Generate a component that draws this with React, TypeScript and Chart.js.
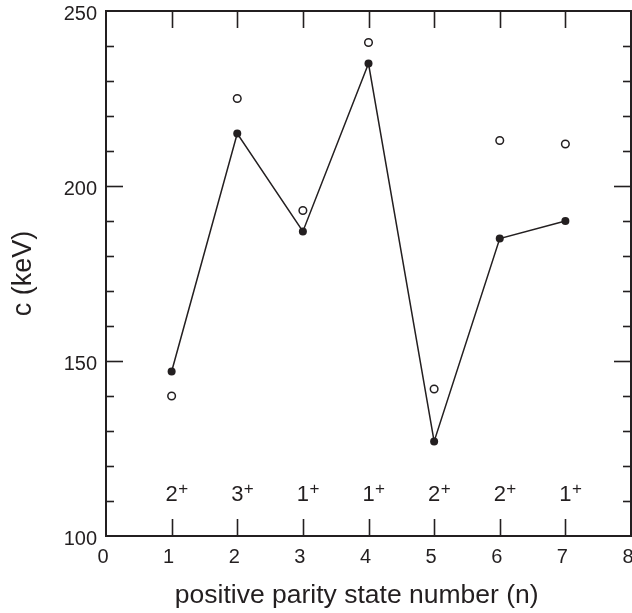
import React, { useEffect, useRef } from 'react';
import { Chart, registerables } from 'chart.js';

Chart.register(...registerables);

// ---- data ----
const stateNumbers = [1, 2, 3, 4, 5, 6, 7];
const calcValues = [147, 215, 187, 235, 127, 185, 190];
const expValues = [140, 225, 193, 241, 142, 213, 212];
const spinDigits = ['2', '3', '1', '1', '2', '2', '1'];
const spinParity = ['+', '+', '+', '+', '+', '+', '+'];
const spinLabelBaseline = 110;
const xMin = 0;
const xMax = 8;
const yMin = 100;
const yMax = 250;
const xTitle = 'positive parity state number (n)';
const yTitle = 'c (keV)';

const INK = '#231f20';
const FONT = '"Liberation Sans", Arial, Helvetica, sans-serif';

const framePlugin = {
  id: 'frameTicks',
  afterDraw(chart: any) {
    const { ctx, chartArea: a, scales } = chart;
    const x = scales.x;
    const y = scales.y;
    ctx.save();
    ctx.strokeStyle = INK;
    ctx.lineWidth = 2;
    ctx.strokeRect(a.left, a.top, a.right - a.left, a.bottom - a.top);
    ctx.lineWidth = 1.6;
    const line = (x1: number, y1: number, x2: number, y2: number) => {
      ctx.beginPath();
      ctx.moveTo(x1, y1);
      ctx.lineTo(x2, y2);
      ctx.stroke();
    };
    x.ticks.forEach((t: any) => {
      const v = t.value;
      if (v <= x.min || v >= x.max) return;
      const px = Math.round(x.getPixelForValue(v)) + 0.5;
      line(px, a.bottom, px, a.bottom - 17);
      line(px, a.top, px, a.top + 17);
    });
    y.ticks.forEach((t: any) => {
      const v = t.value;
      if (v <= y.min || v >= y.max) return;
      const len = v % 50 === 0 ? 17 : 8;
      const py = Math.round(y.getPixelForValue(v)) + 0.5;
      line(a.left, py, a.left + len, py);
      line(a.right - len, py, a.right, py);
    });
    // spin-parity labels
    ctx.fillStyle = INK;
    ctx.textBaseline = 'alphabetic';
    for (let i = 0; i < stateNumbers.length; i++) {
      const px = x.getPixelForValue(stateNumbers[i]);
      const py = y.getPixelForValue(spinLabelBaseline);
      ctx.font = '22px ' + FONT;
      ctx.textAlign = 'center';
      ctx.fillText(spinDigits[i], px, py);
      const w = ctx.measureText(spinDigits[i]).width;
      ctx.font = '17px ' + FONT;
      ctx.textAlign = 'left';
      ctx.fillText(spinParity[i], px + w / 2 + 0.5, py - 7);
    }
    // x axis title
    ctx.font = '26.5px ' + FONT;
    ctx.textAlign = 'center';
    ctx.textBaseline = 'middle';
    ctx.fillText(xTitle, x.getPixelForValue(3.82), chart.height - 17);
    ctx.restore();
  },
};

export default function App() {
  const ref = useRef<HTMLCanvasElement | null>(null);
  useEffect(() => {
    if (!ref.current) return;
    const chart = new Chart(ref.current, {
      type: 'scatter',
      data: {
        datasets: [
          {
            label: 'calc',
            data: stateNumbers.map((n, i) => ({ x: n, y: calcValues[i] })),
            showLine: true,
            borderColor: INK,
            borderWidth: 1.5,
            backgroundColor: INK,
            pointRadius: 4,
            pointBorderWidth: 0,
            pointBackgroundColor: INK,
          },
          {
            label: 'exp',
            data: stateNumbers.map((n, i) => ({ x: n, y: expValues[i] })),
            showLine: false,
            borderColor: INK,
            pointBorderColor: INK,
            pointBackgroundColor: '#ffffff',
            pointRadius: 3.8,
            pointBorderWidth: 1.5,
          },
        ],
      },
      options: {
        responsive: false,
        animation: false,
        layout: { autoPadding: false, padding: { top: 11, right: 1, left: 0, bottom: 0 } },
        plugins: {
          legend: { display: false },
          tooltip: { enabled: false },
        },
        scales: {
          x: {
            type: 'linear',
            min: xMin,
            max: xMax,
            grid: { display: false, drawTicks: false },
            border: { display: false },
            ticks: {
              stepSize: 1,
              color: INK,
              font: { size: 20, family: FONT },
              padding: 9,
              labelOffset: -3,
            },
            title: { display: false },
            afterFit(scale: any) {
              scale.height = 77;
              scale.paddingRight = 0;
              scale.paddingLeft = 0;
            },
          },
          y: {
            type: 'linear',
            min: yMin,
            max: yMax,
            grid: { display: false, drawTicks: false },
            border: { display: false },
            ticks: {
              stepSize: 10,
              color: INK,
              font: { size: 20, family: FONT },
              padding: 9,
              labelOffset: 3,
              autoSkip: false,
              callback: (v: any) => (Number(v) % 50 === 0 ? String(v) : ''),
            },
            title: {
              display: true,
              text: yTitle,
              color: INK,
              font: { size: 27, family: FONT },
              padding: { top: 7, bottom: 0 },
            },
            afterFit(scale: any) {
              scale.width = 106;
              scale.paddingTop = 0;
              scale.paddingBottom = 0;
            },
          },
        },
      },
      plugins: [framePlugin],
    });
    return () => chart.destroy();
  }, []);
  return (
    <div style={{ position: 'absolute', left: 0, top: 0, width: 632, height: 613, background: '#fff' }}>
      <canvas ref={ref} width={632} height={613} style={{ width: 632, height: 613 }} />
    </div>
  );
}
